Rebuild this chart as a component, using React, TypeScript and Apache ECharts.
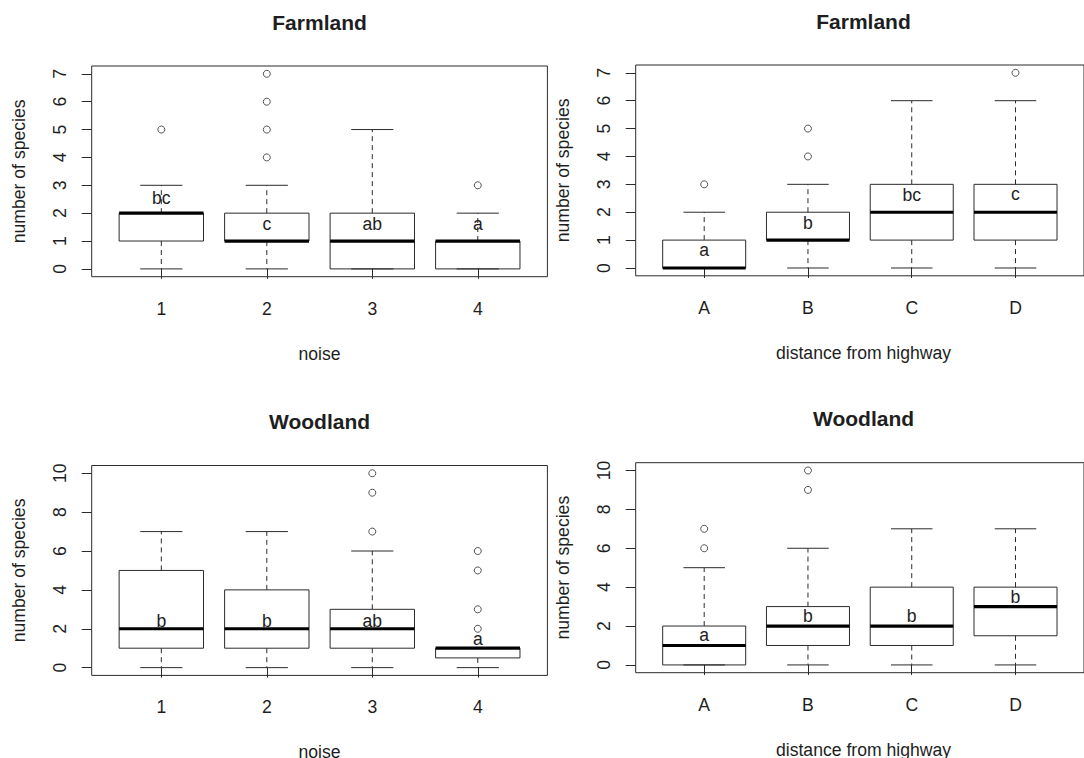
import React, { useEffect, useRef } from "react";
import * as echarts from "echarts";

// Category labels
const noiseCats = ["1", "2", "3", "4"];
const distCats = ["A", "B", "C", "D"];

// Box statistics per group: [lower whisker, Q1, median, Q3, upper whisker]
const farmNoiseStats = [
  [0, 1, 2, 2, 3],
  [0, 1, 1, 2, 3],
  [0, 0, 1, 2, 5],
  [0, 0, 1, 1, 2],
];
const farmDistStats = [
  [0, 0, 0, 1, 2],
  [0, 1, 1, 2, 3],
  [0, 1, 2, 3, 6],
  [0, 1, 2, 3, 6],
];
const woodNoiseStats = [
  [0, 1, 2, 5, 7],
  [0, 1, 2, 4, 7],
  [0, 1, 2, 3, 6],
  [0, 0.5, 1, 1, 1],
];
const woodDistStats = [
  [0, 0, 1, 2, 5],
  [0, 1, 2, 3, 6],
  [0, 1, 2, 4, 7],
  [0, 1.5, 3, 4, 7],
];

// Outliers: [group position, value]
const farmNoiseOutliers = [[1, 5], [2, 4], [2, 5], [2, 6], [2, 7], [4, 3]];
const farmDistOutliers = [[1, 3], [2, 4], [2, 5], [4, 7]];
const woodNoiseOutliers = [[3, 7], [3, 9], [3, 10], [4, 2], [4, 3], [4, 5], [4, 6]];
const woodDistOutliers = [[1, 6], [1, 7], [2, 9], [2, 10]];

// Significance letters and the value at which each is written
const farmNoiseLetters = ["bc", "c", "ab", "a"];
const farmNoiseLetterY = [2.55, 1.6, 1.6, 1.6];
const farmDistLetters = ["a", "b", "bc", "c"];
const farmDistLetterY = [0.65, 1.6, 2.6, 2.65];
const woodNoiseLetters = ["b", "b", "ab", "a"];
const woodNoiseLetterY = [2.4, 2.4, 2.4, 1.45];
const woodDistLetters = ["a", "b", "b", "b"];
const woodDistLetterY = [1.55, 2.5, 2.5, 3.5];

// Y tick values
const farmTicks = [0, 1, 2, 3, 4, 5, 6, 7];
const woodTicks = [0, 2, 4, 6, 8, 10];

const FONT = '"Liberation Sans", Arial, Helvetica, sans-serif';
const INK = "#1e1e1e";
const LINE = "#2b2b2b";
const FS = 17.6;

type Panel = {
  left: number;
  top: number;
  width: number;
  height: number;
  title: string;
  xName: string;
  cats: string[];
  stats: number[][];
  outliers: number[][];
  letters: string[];
  letterY: number[];
  ticks: number[];
};

const panels: Panel[] = [
  {
    left: 91.7, top: 66, width: 455.7, height: 210.7,
    title: "Farmland", xName: "noise", cats: noiseCats,
    stats: farmNoiseStats, outliers: farmNoiseOutliers,
    letters: farmNoiseLetters, letterY: farmNoiseLetterY, ticks: farmTicks,
  },
  {
    left: 635.7, top: 65, width: 455.6, height: 210.8,
    title: "Farmland", xName: "distance from highway", cats: distCats,
    stats: farmDistStats, outliers: farmDistOutliers,
    letters: farmDistLetters, letterY: farmDistLetterY, ticks: farmTicks,
  },
  {
    left: 91.7, top: 465.5, width: 455.7, height: 209.9,
    title: "Woodland", xName: "noise", cats: noiseCats,
    stats: woodNoiseStats, outliers: woodNoiseOutliers,
    letters: woodNoiseLetters, letterY: woodNoiseLetterY, ticks: woodTicks,
  },
  {
    left: 635.7, top: 462.7, width: 455.6, height: 210,
    title: "Woodland", xName: "distance from highway", cats: distCats,
    stats: woodDistStats, outliers: woodDistOutliers,
    letters: woodDistLetters, letterY: woodDistLetterY, ticks: woodTicks,
  },
];

function buildOption() {
  const grid: any[] = [];
  const xAxis: any[] = [];
  const yAxis: any[] = [];
  const series: any[] = [];
  const graphic: any[] = [];

  panels.forEach((p, i) => {
    const yTop = p.ticks[p.ticks.length - 1];
    const pad = yTop * 0.04;
    grid.push({
      left: p.left, top: p.top, width: p.width, height: p.height,
      show: true, borderColor: LINE, borderWidth: 1, backgroundColor: "transparent",
    });
    const positions = p.cats.map((_, k) => k + 1);
    xAxis.push({
      gridIndex: i, type: "value", min: 0.34, max: 4.66,
      axisLine: { show: false }, splitLine: { show: false },
      axisTick: { show: true, customValues: positions, length: 10, lineStyle: { color: LINE, width: 1 } },
      axisLabel: {
        customValues: positions, margin: 23, fontSize: FS, fontFamily: FONT, color: INK,
        formatter: (v: number) => p.cats[Math.round(v) - 1] ?? "",
      },
    });
    yAxis.push({
      gridIndex: i, type: "value", min: -pad, max: yTop + pad,
      axisLine: { show: false }, splitLine: { show: false },
      axisTick: { show: true, customValues: p.ticks, length: 10, lineStyle: { color: LINE, width: 1 } },
      axisLabel: {
        customValues: p.ticks, rotate: 90, margin: 23, fontSize: FS, fontFamily: FONT, color: INK,
        formatter: (v: number) => String(Math.round(v)),
      },
    });

    const boxData = p.stats.map((s, k) => [k + 1, ...s, p.letterY[k]]);
    series.push({
      type: "custom", xAxisIndex: i, yAxisIndex: i, silent: true,
      data: boxData,
      renderItem: (params: any, api: any) => {
        const x = api.value(0);
        const lo = api.value(1), q1 = api.value(2), med = api.value(3), q3 = api.value(4), hi = api.value(5);
        const ly = api.value(6);
        const cx = api.coord([x, med])[0];
        const w = api.size([0.8, 0])[0];
        const yLo = api.coord([x, lo])[1];
        const yQ1 = api.coord([x, q1])[1];
        const yMed = api.coord([x, med])[1];
        const yQ3 = api.coord([x, q3])[1];
        const yHi = api.coord([x, hi])[1];
        const yLab = api.coord([x, ly])[1];
        const dash = { stroke: LINE, lineWidth: 1, lineDash: [5, 4], fill: "none" };
        const solid = { stroke: LINE, lineWidth: 1, fill: "none" };
        return {
          type: "group",
          children: [
            { type: "line", shape: { x1: cx, y1: yQ3, x2: cx, y2: yHi }, style: dash },
            { type: "line", shape: { x1: cx, y1: yQ1, x2: cx, y2: yLo }, style: dash },
            { type: "line", shape: { x1: cx - w / 4, y1: yHi, x2: cx + w / 4, y2: yHi }, style: solid },
            { type: "line", shape: { x1: cx - w / 4, y1: yLo, x2: cx + w / 4, y2: yLo }, style: solid },
            { type: "rect", shape: { x: cx - w / 2, y: yQ3, width: w, height: yQ1 - yQ3 }, style: solid },
            { type: "line", shape: { x1: cx - w / 2, y1: yMed, x2: cx + w / 2, y2: yMed }, style: { stroke: "#000", lineWidth: 3.2 } },
            {
              type: "text", x: cx, y: yLab,
              style: {
                text: p.letters[params.dataIndex], fill: INK, font: `${FS}px ${FONT}`,
                align: "center", verticalAlign: "middle",
              },
            },
          ],
        };
      },
    });

    series.push({
      type: "scatter", xAxisIndex: i, yAxisIndex: i, silent: true,
      data: p.outliers, symbol: "circle", symbolSize: 7,
      itemStyle: { color: "rgba(0,0,0,0)", borderColor: LINE, borderWidth: 1 },
    });

    const cxPlot = p.left + p.width / 2;
    graphic.push({
      type: "text", x: cxPlot, y: p.top - 44,
      style: { text: p.title, font: `bold 21px ${FONT}`, fill: INK, align: "center", verticalAlign: "middle" },
    });
    graphic.push({
      type: "text", x: cxPlot, y: p.top + p.height + 77,
      style: { text: p.xName, font: `${FS}px ${FONT}`, fill: INK, align: "center", verticalAlign: "middle" },
    });
    graphic.push({
      type: "text", x: p.left - 72.5, y: p.top + p.height / 2, rotation: Math.PI / 2,
      style: { text: "number of species", font: `${FS}px ${FONT}`, fill: INK, align: "center", verticalAlign: "middle" },
    });
  });

  return { animation: false, backgroundColor: "#ffffff", grid, xAxis, yAxis, series, graphic };
}

export default function App() {
  const ref = useRef<HTMLDivElement>(null);
  useEffect(() => {
    if (!ref.current) return;
    const chart = echarts.init(ref.current, undefined, { renderer: "svg" });
    chart.setOption(buildOption() as any);
    return () => chart.dispose();
  }, []);
  return (
    <div
      ref={ref}
      style={{ position: "absolute", left: 0, top: 0, width: 1084, height: 758, background: "#fff" }}
    />
  );
}
